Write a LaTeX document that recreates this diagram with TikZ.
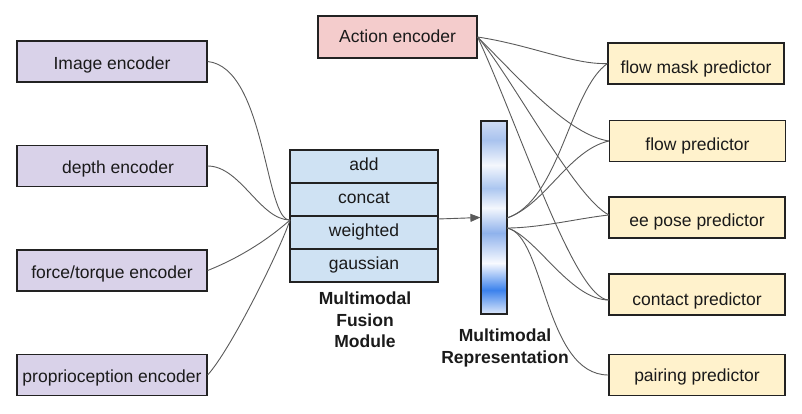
\documentclass[tikz,border=0pt]{standalone}
\usepackage{fontspec}
\setmainfont{Liberation Sans}
\usetikzlibrary{arrows.meta}
\definecolor{encpurple}{HTML}{D9D2E9}
\definecolor{actpink}{HTML}{F4CCCC}
\definecolor{fusblue}{HTML}{CFE2F3}
\definecolor{predyel}{HTML}{FFF2CC}
\definecolor{edgec}{HTML}{222222}
\definecolor{linec}{HTML}{5A5A5A}
\definecolor{txtc}{HTML}{1A1A1A}
\definecolor{bA}{HTML}{DDE8FA}
\definecolor{bB}{HTML}{3C82EC}
\definecolor{bC}{HTML}{F8FAFF}
\definecolor{bD}{HTML}{8FB2EC}
\definecolor{bE}{HTML}{F4F7FD}
\definecolor{bF}{HTML}{ABC6F0}
\definecolor{bG}{HTML}{F4F7FD}
\definecolor{bH}{HTML}{A9C3EE}
\definecolor{bI}{HTML}{CFDCF5}
\pgfdeclareverticalshading{repbar}{100bp}{color(0bp)=(bA); color(25bp)=(bA); color(31.2bp)=(bB); color(38.2bp)=(bC); color(46bp)=(bD); color(52.5bp)=(bE); color(57.6bp)=(bF); color(63.6bp)=(bG); color(70.1bp)=(bH); color(75bp)=(bI); color(100bp)=(bI)}
\begin{document}
\begin{tikzpicture}[x=1pt,y=-1pt,
  box/.style={draw=edgec,line width=1.2pt,inner sep=0pt,text=txtc,text depth=4pt,
    font=\fontsize{17.5}{21}\selectfont},
  encbox/.style={box,fill=encpurple,minimum width=190pt,minimum height=41pt},
  predbox/.style={box,fill=predyel,minimum width=176pt,minimum height=41pt},
  fusrow/.style={box,fill=fusblue,minimum width=148pt,minimum height=33pt,text height=12pt},
  conn/.style={draw=linec,line width=0.9pt},
  lbl/.style={align=center,text=txtc,font=\fontsize{17.5}{21.5}\selectfont\bfseries}]
\useasboundingbox (0,0) rectangle (802,414);
% encoders
\node[encbox,text height=21pt] (img) at (112,61.5) {Image encoder};
\node[encbox,text height=20pt] (dep) at (112,166) {\hspace*{12pt}depth encoder};
\node[encbox,text height=19.6pt] (frc) at (112,270.5) {force/torque encoder};
\node[encbox,text height=18pt] (pro) at (112,375) {proprioception encoder};
% action
\node[box,fill=actpink,minimum width=159pt,minimum height=42pt,text height=15.4pt] (act) at (397.5,37) {Action encoder};
% fusion module
\node[fusrow] (fadd) at (364,166.5) {add};
\node[fusrow] (fcat) at (364,199.5) {concat};
\node[fusrow] (fwt) at (364,232.5) {weighted};
\node[fusrow] (fgau) at (364,265.5) {gaussian};
\node[lbl] (fuslbl) at (365,320) {Multimodal\\Fusion\\Module};
% representation bar
\node[draw=edgec,line width=1.2pt,shading=repbar,minimum width=26pt,minimum height=193pt,inner sep=0pt] (rep) at (494,217.5) {};
\node[lbl] (replbl) at (505,348) {Multimodal\\Representation};
% predictors
\node[predbox,text height=23.6pt] (fmp) at (696,63.5) {flow mask predictor};
\node[predbox,text height=22pt] (flp) at (697.5,141) {flow predictor};
\node[predbox,text height=22pt] (eep) at (697,217.5) {ee pose predictor};
\node[predbox,text height=25pt] (cop) at (697,294.5) {contact predictor};
\node[predbox,text height=17.4pt] (pap) at (697,375) {pairing predictor};
% coordinates
\coordinate (fin) at (290,220);
\coordinate (fout) at (438,219);
\coordinate (rpu) at (507,218);
\coordinate (rpd) at (507,228);
\coordinate (cin) at (609,300);
\coordinate (ein) at (609,215);
% encoders to fusion
\draw[conn] (img.east) .. controls +(58,6) and +(-25,2) .. (fin);
\draw[conn] (dep.east) .. controls +(33,0) and +(-30,0) .. (fin);
\draw[conn] (frc.east) .. controls +(33,-13) and +(-20,18) .. (fin);
\draw[conn] (pro.east) .. controls +(23,-25) and +(-10,30) .. (fin);
% fusion to representation
\draw[conn,-{Triangle[length=10pt,width=8pt]},fill=linec] (fout) -- (rep.west);
% action to predictors
\draw[conn] (act.east) .. controls +(53,8) and +(-33,1.5) .. (fmp.west);
\draw[conn] (act.east) .. controls +(43,43) and +(-40,-6) .. (flp.west);
\draw[conn] (act.east) .. controls +(33,38) and +(-34,-17) .. (ein);
\draw[conn] (act.east) .. controls +(43,93) and +(-34,0) .. (cin);
% representation to predictors
\draw[conn] (rpu) .. controls +(53,-18) and +(-38,27) .. (fmp.west);
\draw[conn] (rpu) .. controls +(38,-13) and +(-40,9) .. (flp.west);
\draw[conn] (rpd) .. controls +(33,0) and +(-29,3) .. (ein);
\draw[conn] (rpd) .. controls +(28,7) and +(-39,0) .. (cin);
\draw[conn] (rpd) .. controls +(38,7) and +(-64,0) .. (pap.west);
\end{tikzpicture}
\end{document}
